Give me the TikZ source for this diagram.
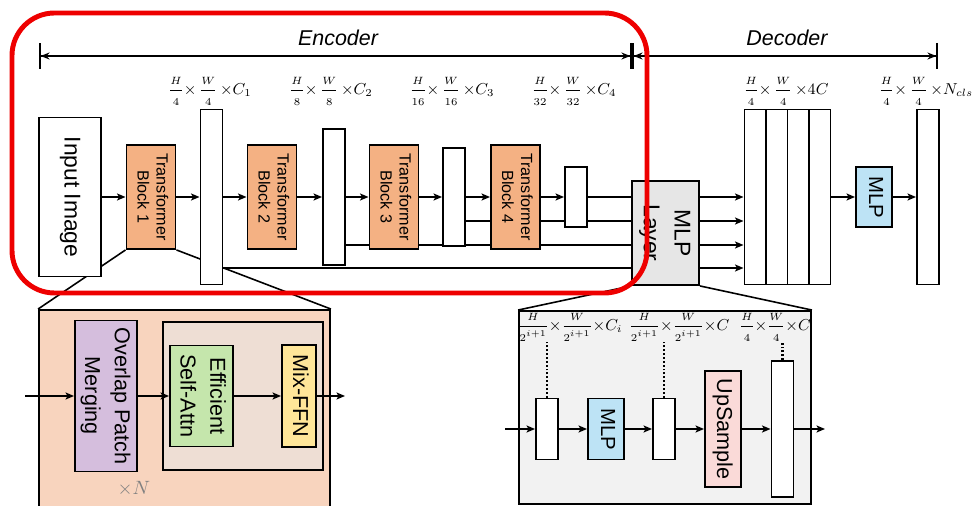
\documentclass[tikz,border=0pt]{standalone}
\usepackage{fontspec}
\setmainfont{Liberation Sans}
\usepackage{graphicx}
\usepackage{amsmath}
\usetikzlibrary{arrows.meta,backgrounds}
\definecolor{sforange}{RGB}{244,177,131}
\definecolor{sfpeach}{RGB}{248,212,190}
\definecolor{sfinner}{RGB}{238,222,212}
\definecolor{sfpurple}{RGB}{213,190,221}
\definecolor{sfgreen}{RGB}{197,230,172}
\definecolor{sfyellow}{RGB}{255,230,153}
\definecolor{sfblue}{RGB}{189,227,245}
\definecolor{sfpink}{RGB}{250,218,216}
\definecolor{sfgray}{RGB}{230,230,230}
\definecolor{sfpale}{RGB}{242,242,242}
\definecolor{sfred}{RGB}{238,0,0}
\newcommand{\sfturn}[1]{\rotatebox{-90}{\begin{tabular}{@{}c@{}}#1\end{tabular}}}
\newcommand{\sffrac}[2]{{\displaystyle\frac{\scriptstyle #1}{\scriptstyle #2}}}
\tikzset{
  sfbase/.style={x=0.02cm, y=-0.02cm},
  sfbox/.style={draw, line width=1.1pt, inner sep=0pt},
  sfblock/.style={sfbox, fill=sforange, minimum width=0.98cm, minimum height=2.08cm, font=\fontsize{9.2}{10.8}\selectfont},
  sfbar/.style={sfbox, fill=white, minimum width=0.44cm},
  sfpanel/.style={draw, line width=1.1pt, inner sep=0pt},
  sflink/.style={line width=0.9pt},
  sfarrow/.style={line width=0.9pt, -{Stealth[length=1.7mm,width=1.4mm,inset=0.4mm]}},
  sfdot/.style={line width=1.2pt, dash pattern=on 1.1pt off 1.1pt},
  sfsize/.style={font=\fontsize{9.2}{11}\selectfont, inner sep=0.5pt},
  sfsmall/.style={font=\fontsize{8.6}{10}\selectfont, inner sep=0.5pt},
  sfhead/.style={font=\fontsize{12.2}{14}\selectfont\itshape},
  sfspan/.style={line width=0.9pt, {Bar[width=5.2mm]Stealth[length=1.8mm,width=1.4mm]}-{Stealth[length=1.8mm,width=1.4mm]Bar[width=5.2mm]}},
  sfdetail/.style={font=\fontsize{12.3}{17}\selectfont},
  sfmark/.style={draw=sfred, line width=2.8pt, rounded corners=0.85cm}
}

\begin{document}
\begin{tikzpicture}[sfbase]
\useasboundingbox (0,0) rectangle (978,506);
\node[sfhead] (enc) at (338,38) {Encoder};
\node[sfhead] (dec) at (787,38) {Decoder};
\coordinate (encl) at (39,56);
\coordinate (encr) at (632,56);
\coordinate (decr) at (938,56);
\draw[sfspan] (encl) -- (encr);
\draw[sfspan] (encr) -- (decr);
\node[sfbox, fill=white, minimum width=1.24cm, minimum height=3.18cm, font=\fontsize{13}{15}\selectfont] (img) at (70,197) {\sfturn{Input Image}};
\node[sfblock] (tb1) at (151,197) {\sfturn{Transformer\\Block 1}};
\node[sfbar, minimum height=3.5cm] (f1) at (211.5,197) {};
\node[sfblock] (tb2) at (272,197) {\sfturn{Transformer\\Block 2}};
\node[sfbar, minimum height=2.72cm] (f2) at (334,197) {};
\node[sfblock] (tb3) at (394,197) {\sfturn{Transformer\\Block 3}};
\node[sfbar, minimum height=1.96cm] (f3) at (454,197) {};
\node[sfblock] (tb4) at (515.5,197) {\sfturn{Transformer\\Block 4}};
\node[sfbar, minimum height=1.2cm] (f4) at (576,197) {};
\node[sfbox, fill=sfgray, minimum width=1.34cm, minimum height=2.08cm, font=\fontsize{13}{17.5}\selectfont] (mlp) at (665.5,233) {\sfturn{MLP\\Layer}};
\foreach \i/\x in {1/755.25,2/776.75,3/798.25,4/819.75}
  \node[sfbar, minimum width=0.43cm, minimum height=3.5cm] (c\i) at (\x,197) {};
\node[sfbox, fill=sfblue, minimum width=0.72cm, minimum height=1.2cm, font=\fontsize{11.6}{14}\selectfont] (head) at (874,197) {\sfturn{MLP}};
\node[sfbar, minimum height=3.5cm] (out) at (928,197) {};
\node[sfsize] (s1) at (210,91) {$\sffrac{H}{4}{\times}\,\sffrac{W}{4}\,{\times}C_1$};
\node[sfsize] (s2) at (331,91) {$\sffrac{H}{8}{\times}\,\sffrac{W}{8}\,{\times}C_2$};
\node[sfsize] (s3) at (452,91) {$\sffrac{H}{16}{\times}\,\sffrac{W}{16}\,{\times}C_3$};
\node[sfsize] (s4) at (574,91) {$\sffrac{H}{32}{\times}\,\sffrac{W}{32}\,{\times}C_4$};
\node[sfsize] (s5) at (786,91) {$\sffrac{H}{4}{\times}\,\sffrac{W}{4}\,{\times}4C$};
\node[sfsize] (s6) at (926,91) {$\sffrac{H}{4}{\times}\,\sffrac{W}{4}\,{\times}N_{cls}$};
\foreach \a/\b in {img/tb1,tb1/f1,f1/tb2,tb2/f2,f2/tb3,tb3/f3,f3/tb4,tb4/f4}
  \draw[sfarrow] (\a) -- (\b);
\foreach \y in {197,221,245,268}
  \draw[sfarrow] (mlp.east |- 0,\y) -- (c1.west |- 0,\y);
\draw[sfarrow] (c4) -- (head);
\draw[sfarrow] (head) -- (out);
\node[sfpanel, fill=sfpeach, minimum width=5.82cm, minimum height=3.96cm] (det1) at (184.5,409) {};
\node[sfbox, fill=sfinner, minimum width=3.2cm, minimum height=2.96cm] (rep) at (243,396) {};
\node[sfbox, fill=sfpurple, minimum width=1.24cm, minimum height=3.02cm, sfdetail] (opm) at (106,396) {\sfturn{Overlap Patch\\Merging}};
\node[sfbox, fill=sfgreen, minimum width=1.26cm, minimum height=2.02cm, sfdetail] (esa) at (201.5,396) {\sfturn{Efficient\\Self-Attn}};
\node[sfbox, fill=sfyellow, minimum width=0.68cm, minimum height=2.04cm, sfdetail] (ffn) at (299,396) {\sfturn{Mix-FFN}};
\node[text=gray, font=\fontsize{10.5}{12}\selectfont] (times) at (134,489) {$\times N$};
\coordinate (d1in) at (25,396);
\coordinate (d1out) at (345,396);
\foreach \a/\b in {d1in/opm,opm/esa,esa/ffn,ffn/d1out}
  \draw[sfarrow] (\a) -- (\b);
\node[sfpanel, fill=sfpale, minimum width=5.84cm, minimum height=3.86cm] (det2) at (665,407.5) {};
\node[sfbar, minimum height=1.22cm] (da) at (547,429) {};
\node[sfbox, fill=sfblue, minimum width=0.72cm, minimum height=1.22cm, font=\fontsize{11.6}{14}\selectfont] (dmlp) at (606,429) {\sfturn{MLP}};
\node[sfbar, minimum height=1.22cm] (db) at (664,429) {};
\node[sfbox, fill=sfpink, minimum width=0.72cm, minimum height=2.32cm, sfdetail] (ups) at (723,429) {\sfturn{UpSample}};
\node[sfbar, minimum height=2.72cm] (dc) at (782.5,429) {};
\coordinate (d2in) at (505,429);
\coordinate (d2out) at (825,429);
\foreach \a/\b in {d2in/da,da/dmlp,dmlp/db,db/ups,ups/dc,dc/d2out}
  \draw[sfarrow] (\a) -- (\b);
\node[sfsmall] (la) at (570,327) {$\sffrac{H}{2^{i+1}}{\times}\sffrac{W}{2^{i+1}}{\times}C_i$};
\node[sfsmall] (lb) at (679,327) {$\sffrac{H}{2^{i+1}}{\times}\sffrac{W}{2^{i+1}}{\times}C$};
\node[sfsmall] (lc) at (775,327) {$\sffrac{H}{4}{\times}\sffrac{W}{4}{\times}C$};
\draw[sfdot] (da.north) -- (da.north |- la.south);
\draw[sfdot] (db.north) -- (db.north |- lb.south);
\draw[sfdot] (dc.north) -- (dc.north |- lc.south);
\begin{scope}[on background layer]
\draw[sflink] (f1.east |- 0,268) -- (mlp.west |- 0,268);
\draw[sflink] (f2.east |- 0,245) -- (mlp.west |- 0,245);
\draw[sflink] (f3.east |- 0,221) -- (mlp.west |- 0,221);
\draw[sflink] (f4.east) -- (f4.east -| mlp.west);
\draw[sflink] (tb1.south west) -- (det1.north west);
\draw[sflink] (tb1.south east) -- (det1.north east);
\draw[sflink] (mlp.south west) -- (det2.north west);
\draw[sflink] (mlp.south east) -- (det2.north east);
\end{scope}
\draw[sfmark] (12,13) rectangle (647,293);
\end{tikzpicture}
\end{document}
